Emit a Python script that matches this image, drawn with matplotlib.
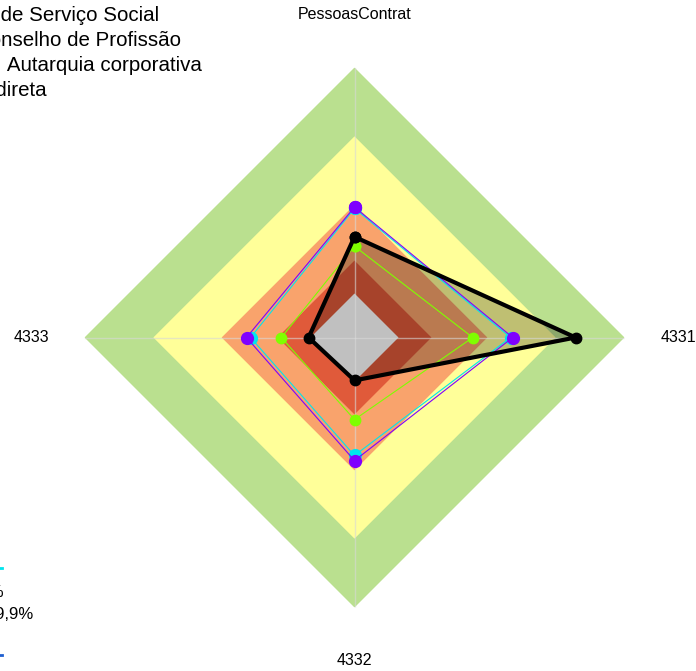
import numpy as np
import matplotlib.pyplot as plt
from matplotlib.lines import Line2D

# Eixos do radar (sentido horário, começando no topo)
categorias = ["PessoasContrat", "4331", "4332", "4333"]

# Faixas de fundo (raio em % do máximo)
faixas_nivel = [100, 74.5, 49.2, 28.5]
faixas_cor = ["#BAE08F", "#FFFF99", "#F9A36C", "#E05A3A"]
centro_nivel = 16.3
centro_cor = "#C0C0C0"

# Séries
serie_ciano = [47.8, 57.8, 43.7, 38.5]
serie_roxa = [48.3, 58.6, 45.6, 40.0]
serie_verde = [33.8, 43.8, 30.4, 27.1]
serie_preta = [37.3, 81.9, 15.9, 17.0]

# Textos (cortados na borda esquerda, como no original)
titulo_linhas = [
    "Conselho Regional de Serviço Social",
    "Conselho de Profissão",
    "Natureza jurídica:  Autarquia corporativa",
    "Administração indireta",
]
legenda_linhas = ["Média 40%", "Mediana 49,9%"]


def fechar(v):
    v = np.asarray(v, dtype=float)
    return np.append(v, v[0])


def main():
    W, H = 696, 671
    fig = plt.figure(figsize=(W / 100, H / 100), dpi=100)
    plt.rcParams["font.family"] = ["Liberation Sans", "DejaVu Sans"]

    cx, cy, R = 354.5, 337.5, 270
    ax = fig.add_axes([(cx - R) / W, (H - cy - R) / H, 2 * R / W, 2 * R / H],
                      projection="polar")
    ax.set_theta_zero_location("N")
    ax.set_theta_direction(-1)
    ax.set_ylim(0, 100)
    ax.set_xticks([])
    ax.set_yticks([])
    ax.grid(False)
    ax.spines["polar"].set_visible(False)
    ax.patch.set_visible(False)

    ang = np.arange(len(categorias)) * 2 * np.pi / len(categorias)
    ang_c = np.append(ang, ang[0])

    # faixas de fundo
    for nivel, cor in zip(faixas_nivel, faixas_cor):
        ax.fill(ang_c, fechar([nivel] * 4), color=cor, lw=0, zorder=1)

    # preenchimento da série preta
    ax.fill(ang_c, fechar(serie_preta), color="black", alpha=0.25, lw=0, zorder=2)

    # centro cinza
    ax.fill(ang_c, fechar([centro_nivel] * 4), color=centro_cor, lw=0, zorder=2.5)

    # linhas dos eixos
    for a in ang:
        ax.plot([a, a], [0, 100], color="#d8d8d8", lw=1.0, alpha=0.6, zorder=3)

    # séries
    ax.plot(ang_c, fechar(serie_ciano), color="#00E5EE", lw=0.8,
            marker="o", ms=8.5, zorder=4)
    ax.plot(ang_c, fechar(serie_roxa), color="#7F00FF", lw=0.8,
            marker="o", ms=8.5, zorder=5)
    ax.plot(ang_c, fechar(serie_verde), color="#7FFF00", lw=0.8,
            marker="o", ms=7.5, zorder=6)
    ax.plot(ang_c, fechar(serie_preta), color="black", lw=3,
            marker="o", ms=7.5, zorder=7)

    # rótulos dos eixos
    for a, rot in zip(ang, categorias):
        ax.text(a, 119.8, rot, ha="center", va="center", fontsize=11.5,
                clip_on=False)

    # título (cortado à esquerda)
    fins = [159, 181, 202, 47]
    bases = [21, 46, 71, 96]
    for txt, xf, yb in zip(titulo_linhas, fins, bases):
        fig.text(xf / W, 1 - yb / H, txt, ha="right", va="baseline",
                 fontsize=14.8)

    # legenda (cortada à esquerda)
    for txt, xf, yb in zip(legenda_linhas, [4, 33], [597, 619]):
        fig.text(xf / W, 1 - yb / H, txt, ha="right", va="baseline",
                 fontsize=12)
    for cor, yy in zip(["#00E5EE", "#1f5fd0"], [568, 655]):
        fig.add_artist(Line2D([-10 / W, 1.5 / W], [1 - yy / H, 1 - yy / H],
                              color=cor, lw=2, transform=fig.transFigure))

    fig.savefig("out.png", dpi=100)
    plt.close(fig)


if __name__ == "__main__":
    main()
